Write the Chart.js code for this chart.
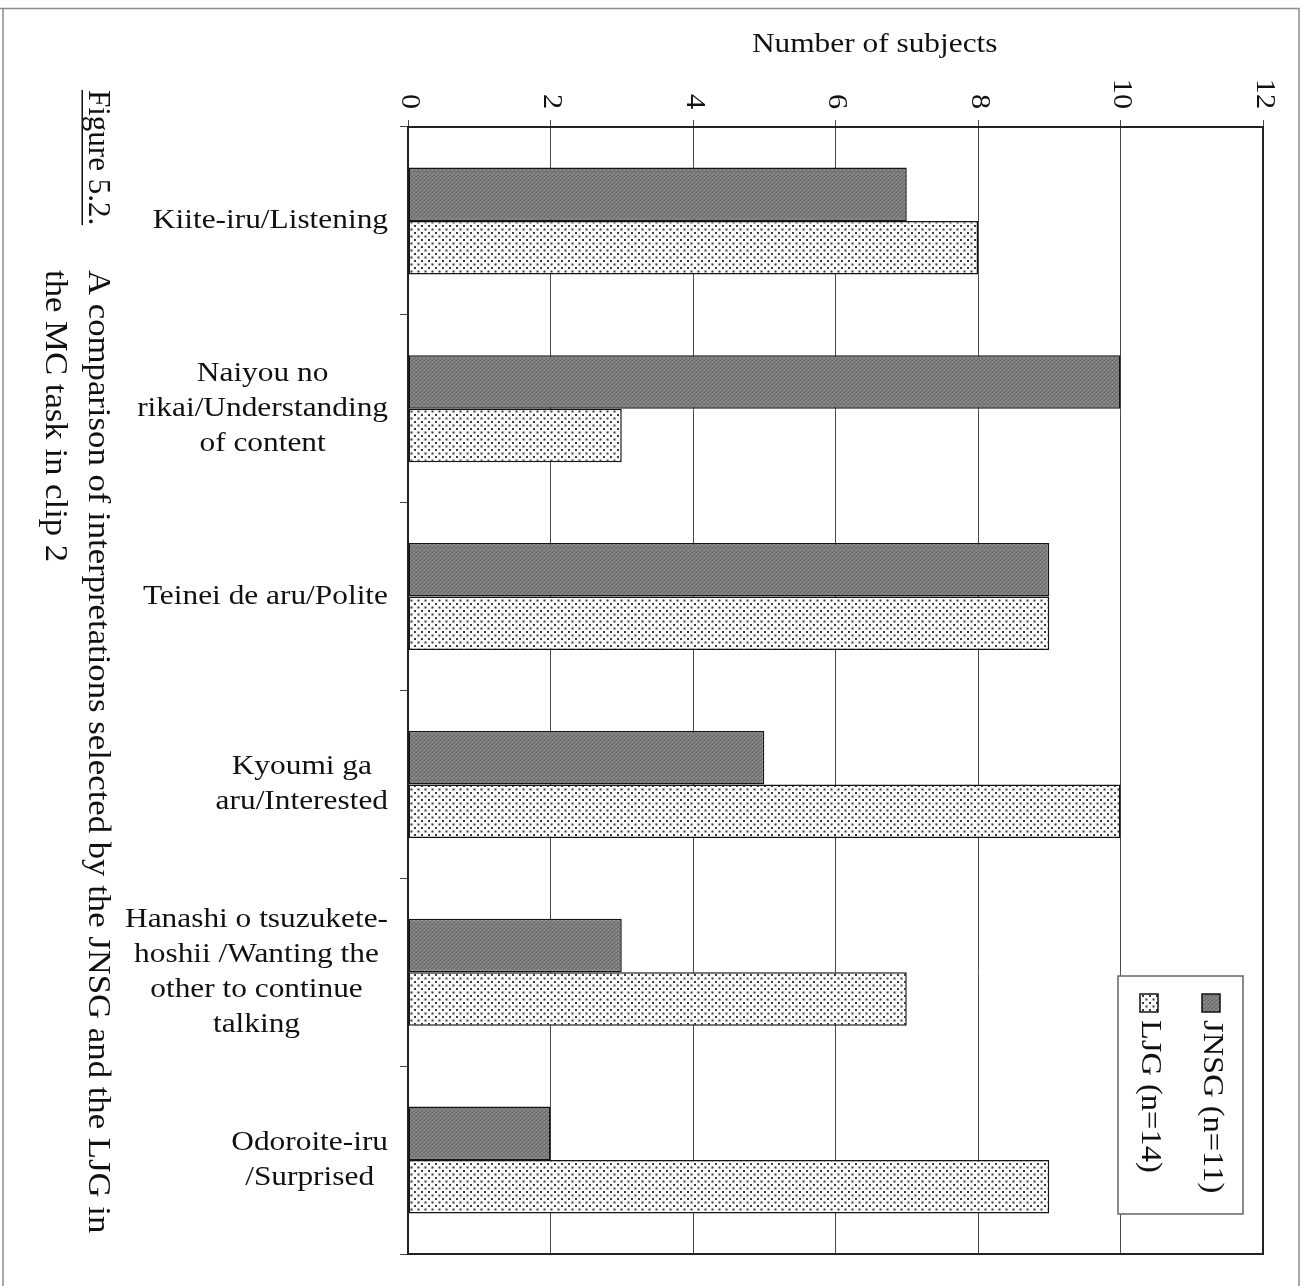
<!DOCTYPE html>
<html>
<head>
<meta charset="utf-8">
<script src="https://cdn.jsdelivr.net/npm/chart.js@4.4.1/dist/chart.umd.min.js"></script>
<style>
  html, body { margin: 0; padding: 0; background: #fff; }
  #wrap { width: 1307px; height: 1286px; }
</style>
</head>
<body>
<div id="wrap"><canvas id="chart" width="1307" height="1286"></canvas></div>
<script>
// Interpretation categories (multi-line labels)
const categories = [
  ["Kiite-iru/Listening"],
  ["Naiyou no", "rikai/Understanding", "of content"],
  ["Teinei de aru/Polite"],
  ["Kyoumi ga", "aru/Interested"],
  ["Hanashi o tsuzukete-", "hoshii /Wanting the", "other to continue", "talking"],
  ["Odoroite-iru", "/Surprised"]
];
// Number of subjects choosing each interpretation
const jnsgValues = [7, 10, 9, 5, 3, 2];
const ljgValues  = [8, 3, 9, 10, 7, 9];
const seriesNames = ["JNSG (n=11)", "LJG (n=14)"];
const xTickValues = [0, 2, 4, 6, 8, 10, 12];
const axisTitle = "Number of subjects";
const captionLabel = "Figure 5.2.";
const captionLines = [
  "A comparison of interpretations selected by the JNSG and the LJG in",
  "the MC task in clip 2"
];

const SERIF = '"Liberation Serif", "DejaVu Serif", serif';
const WIDE = 1.12;   // horizontal stretch for a book-face look

// Dark stippled fill for the first series
function makeDarkPattern() {
  const c = document.createElement('canvas');
  c.width = 4; c.height = 4;
  const g = c.getContext('2d');
  g.fillStyle = '#7e7e7e'; g.fillRect(0, 0, 4, 4);
  g.fillStyle = '#686868';
  g.fillRect(0, 0, 1, 1); g.fillRect(2, 2, 1, 1); g.fillRect(3, 0, 1, 1); g.fillRect(1, 3, 1, 1);
  g.fillStyle = '#949494';
  g.fillRect(2, 0, 1, 1); g.fillRect(0, 2, 1, 1);
  return g.createPattern(c, 'repeat');
}
// Light dotted fill for the second series
function makeDotPattern() {
  const c = document.createElement('canvas');
  c.width = 7; c.height = 7;
  const g = c.getContext('2d');
  g.fillStyle = '#fbfbfb'; g.fillRect(0, 0, 7, 7);
  g.fillStyle = '#3a3a3a';
  g.fillRect(1, 1, 2, 2);
  g.fillRect(4.5, 4.5, 2, 2);
  return g.createPattern(c, 'repeat');
}

// text drawn with a horizontal stretch along its own baseline
function wideText(g, text, x, y, rot, sx) {
  g.save();
  g.translate(x, y);
  if (rot) g.rotate(rot);
  g.scale(sx || WIDE, 1);
  g.fillText(text, 0, 0);
  g.restore();
}

const ctx = document.getElementById('chart').getContext('2d');
const darkFill = makeDarkPattern();
const dotFill = makeDotPattern();

const decor = {
  id: 'decor',
  beforeDraw(chart) {
    const g = chart.ctx;
    g.save();
    g.fillStyle = '#fff';
    g.fillRect(0, 0, chart.width, chart.height);
    // page frame
    g.strokeStyle = '#8a8a8a';
    g.lineWidth = 1.5;
    g.beginPath();
    g.moveTo(3, 1286); g.lineTo(3, 9);
    g.moveTo(0, 8.5); g.lineTo(1299, 8.5); g.lineTo(1299, 1286);
    g.stroke();
    g.restore();
  },
  afterDraw(chart) {
    const g = chart.ctx;
    const xs = chart.scales.x, ys = chart.scales.y;
    const a = chart.chartArea;
    g.save();
    // right and bottom edges of the plot box
    g.strokeStyle = '#222';
    g.lineWidth = 2;
    g.beginPath();
    g.moveTo(a.right, a.top); g.lineTo(a.right, a.bottom); g.lineTo(a.left - 1, a.bottom);
    g.stroke();

    // value tick labels, turned a quarter clockwise
    g.fillStyle = '#111';
    g.font = '27px ' + SERIF;
    g.textAlign = 'right';
    g.textBaseline = 'middle';
    xTickValues.forEach(v => {
      const px = xs.getPixelForValue(v);
      wideText(g, String(v), px + 1, 109, Math.PI / 2);
    });

    // axis title, set over the upper part of the value range
    g.textAlign = 'center';
    g.textBaseline = 'middle';
    g.font = '28px ' + SERIF;
    wideText(g, axisTitle, xs.getPixelForValue(6.55), 45);

    // category labels: centred block, right edge near the axis
    g.font = '28px ' + SERIF;
    const lineH = 35;
    chart.data.labels.forEach((lines, i) => {
      const cy = ys.getPixelForValue(i);
      const w = WIDE * Math.max(...lines.map(t => g.measureText(t).width));
      const cx = 388 - w / 2;
      const y0 = cy - (lines.length - 1) * lineH / 2;
      lines.forEach((t, k) => wideText(g, t, cx, y0 + k * lineH));
    });

    // legend box
    const lx = 1118, ly = 976, lw = 125, lh = 238;
    g.fillStyle = '#fff';
    g.fillRect(lx, ly, lw, lh);
    g.strokeStyle = '#666';
    g.lineWidth = 1.5;
    g.strokeRect(lx, ly, lw, lh);
    const items = [
      { name: seriesNames[0], fill: darkFill, cx: 1211 },
      { name: seriesNames[1], fill: dotFill, cx: 1149 }
    ];
    items.forEach(it => {
      g.fillStyle = it.fill;
      g.fillRect(it.cx - 9, 994, 18, 18);
      g.strokeStyle = '#111';
      g.lineWidth = 1.5;
      g.strokeRect(it.cx - 9, 994, 18, 18);
      g.fillStyle = '#111';
      g.textAlign = 'left';
      g.textBaseline = 'middle';
      g.font = '29px ' + SERIF;
      wideText(g, it.name, it.cx + 1, 1020, Math.PI / 2);
    });

    // figure caption, turned a quarter clockwise
    g.save();
    g.translate(97, 90);
    g.rotate(Math.PI / 2);
    g.fillStyle = '#111';
    g.textAlign = 'left';
    g.textBaseline = 'middle';
    g.font = '31px ' + SERIF;
    const capW = g.measureText(captionLabel).width;
    wideText(g, captionLabel, 0, 0, 0, 1.0);
    g.fillRect(0, 14, capW, 1.5);
    wideText(g, captionLines[0], 180, 0);
    wideText(g, captionLines[1], 180, 43);
    g.restore();
    g.restore();
  }
};

new Chart(ctx, {
  type: 'bar',
  data: {
    labels: categories,
    datasets: [
      { label: seriesNames[0], data: jnsgValues, backgroundColor: darkFill,
        borderColor: '#151515', borderWidth: 1.5, borderSkipped: false,
        categoryPercentage: 0.57, barPercentage: 1.0 },
      { label: seriesNames[1], data: ljgValues, backgroundColor: dotFill,
        borderColor: '#151515', borderWidth: 1.5, borderSkipped: false,
        categoryPercentage: 0.57, barPercentage: 1.0 }
    ]
  },
  options: {
    indexAxis: 'y',
    responsive: false,
    animation: false,
    layout: { padding: { top: 0, left: 0, right: 44, bottom: 32 } },
    plugins: { legend: { display: false }, tooltip: { enabled: false } },
    scales: {
      x: {
        type: 'linear', position: 'top', min: 0, max: 12,
        ticks: { stepSize: 2, display: false },
        grid: { color: '#4a4a4a', lineWidth: 1, tickLength: 7, drawTicks: true },
        border: { display: true, color: '#222', width: 2 },
        afterFit(s) { s.height = 127; }
      },
      y: {
        type: 'category', position: 'left',
        ticks: { display: false },
        grid: { drawOnChartArea: false, offset: true, tickLength: 8, color: '#444', lineWidth: 1 },
        border: { display: true, color: '#222', width: 2 },
        afterFit(s) { s.width = 408; }
      }
    }
  },
  plugins: [decor]
});
</script>
</body>
</html>
